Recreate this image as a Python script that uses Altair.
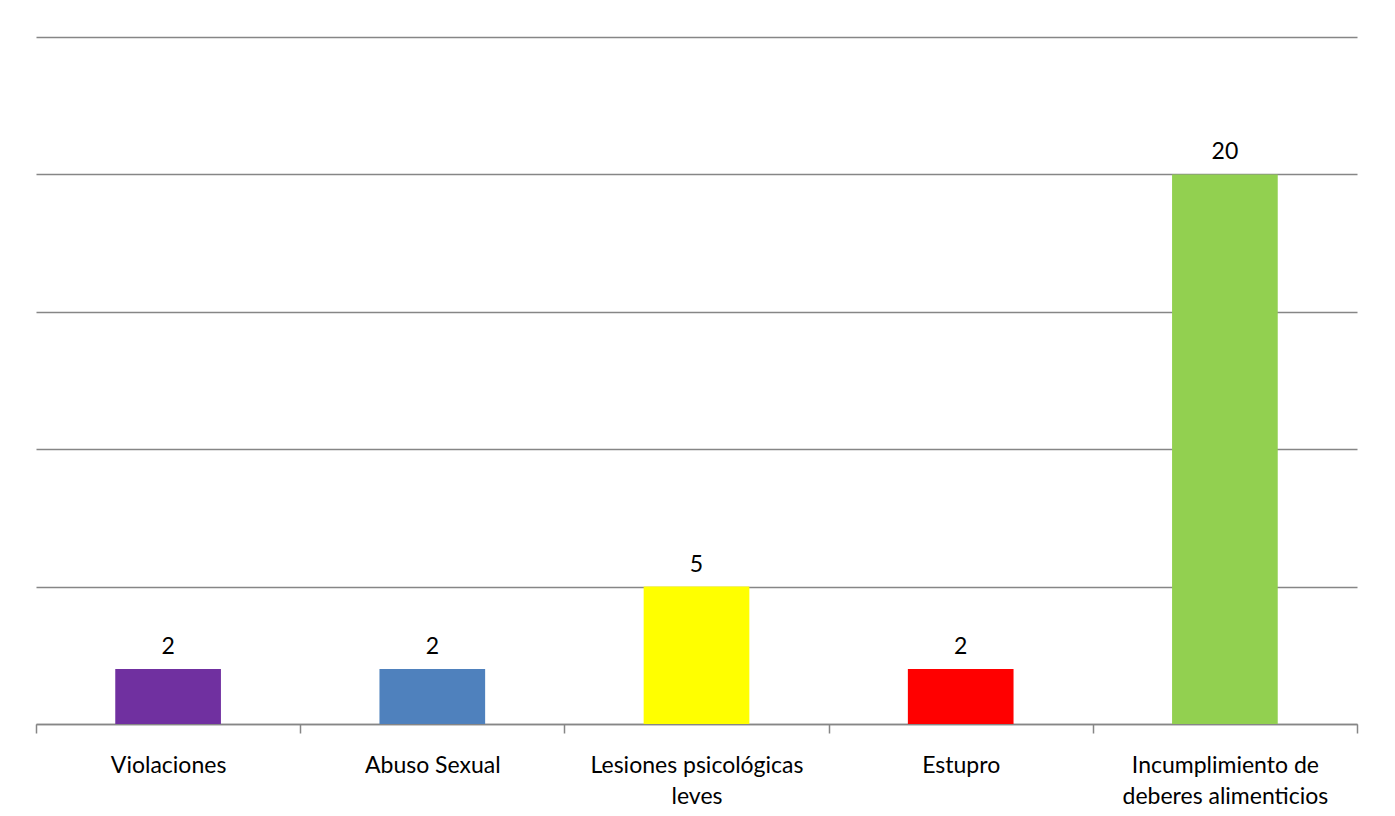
import altair as alt
import pandas as pd

categories = [
    "Violaciones",
    "Abuso Sexual",
    "Lesiones psicológicas\nleves",
    "Estupro",
    "Incumplimiento de\ndeberes alimenticios",
]
values = [2, 2, 5, 2, 20]
colors = ["#7030A0", "#4F81BD", "#FFFF00", "#FF0000", "#92D050"]

df = pd.DataFrame({"cat": categories, "val": values, "color": colors})

x = alt.X(
    "cat:N",
    sort=categories,
    title=None,
    scale=alt.Scale(paddingInner=0, paddingOuter=0),
    axis=alt.Axis(
        labelAngle=0,
        labelExpr="split(datum.label, '\\n')",
        labelFont="Lato",
        labelFontSize=23,
        labelColor="#000000",
        labelLineHeight=31,
        labelPadding=21,
        labelLimit=0,
        tickBand="extent",
        tickSize=9,
        tickColor="#868686",
        tickWidth=1.5,
        domainColor="#868686",
        domainWidth=1.5,
        grid=False,
    ),
)
y = alt.Y(
    "val:Q",
    title=None,
    scale=alt.Scale(domain=[0, 25], nice=False),
    axis=alt.Axis(
        values=[0, 5, 10, 15, 20, 25],
        labels=False,
        ticks=False,
        domain=False,
        grid=True,
        gridColor="#868686",
        gridWidth=1.6,
    ),
)

base = alt.Chart(df).encode(x=x, y=y)

bars = base.mark_bar(width=alt.RelativeBandSize(0.4)).encode(
    color=alt.Color("color:N", scale=None)
)
text = base.mark_text(
    dy=-22, font="Lato", fontSize=23, color="#000000"
).encode(text="val:Q")

chart = (
    (bars + text)
    .properties(
        width=1321,
        height=687,
        autosize=alt.AutoSizeParams(type="none"),
        padding={"left": 28, "top": 29, "right": 30, "bottom": 95},
        background="white",
    )
    .configure_view(stroke=None)
)

chart.save("out.html", embed_options={"renderer": "svg", "actions": False})
